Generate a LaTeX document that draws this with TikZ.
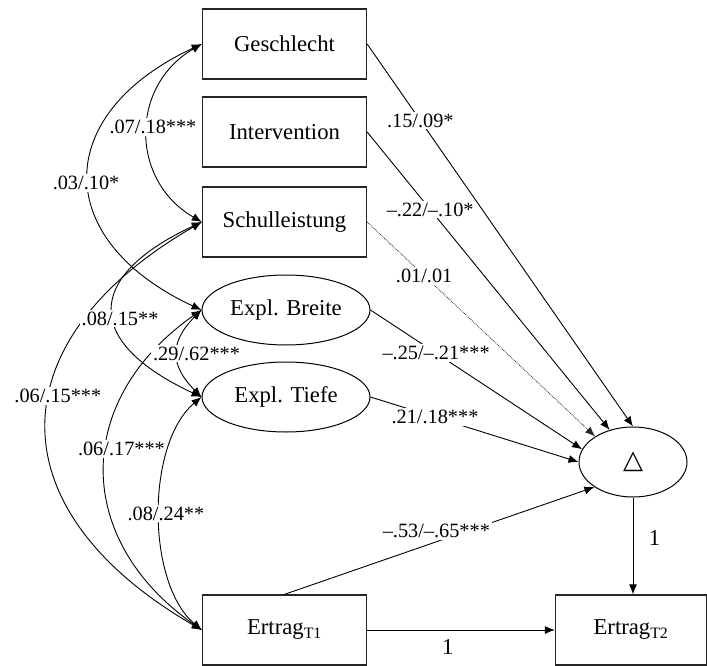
\documentclass[tikz,border=0pt]{standalone}
\usepackage{fontspec}
\setmainfont{Liberation Serif}
\newfontfamily\symfont{DejaVu Sans}
\usetikzlibrary{arrows.meta, shapes.geometric}

\begin{document}
\begin{tikzpicture}[x=1pt, y=-1pt, >={Latex[length=10pt,width=8pt]}, line width=0.9pt,
  font=\fontsize{22.7}{26}\selectfont,
  var/.style={draw=black!85, line width=1.3pt, minimum width=164pt, minimum height=70pt, inner sep=0pt},
  lat/.style={draw, ellipse, line width=1pt, minimum width=168pt, minimum height=70pt, inner sep=0pt},
  lbl/.style={fill=white, inner sep=2pt, font=\fontsize{20.3}{24}\selectfont}]
  \useasboundingbox (0,0) rectangle (707,666);
  % Variablen
  \node[var] (geschl) at (284.5,44) {Geschlecht};
  \node[var] (interv) at (284.5,132) {Intervention};
  \node[var] (schull) at (284.5,222) {Schulleistung};
  \node[lat] (breite) at (286,310) {Expl. Breite};
  \node[lat] (tiefe) at (286,397) {Expl. Tiefe};
  \node[var] (ertrA) at (284.5,630) {Ertrag\textsubscript{T1}};
  \node[var, minimum width=151pt] (ertrB) at (631,630) {Ertrag\textsubscript{T2}};
  \node[lat, minimum width=108pt] (delta) at (633,462) {\symfont\fontsize{26}{26}\selectfont △};
  % Pfade auf die Veränderung
  \draw[->] (geschl.east) -- node[lbl, pos=0.2] {.15/.09*} (delta.90);
  \draw[->] (interv.east) -- node[lbl, pos=0.26] {--.22/--.10*} (delta.126);
  \draw[->, densely dotted, line width=0.8pt, black!85] (schull.east) -- node[lbl, text=black, pos=0.25] {.01/.01} (delta.146);
  \draw[->] (breite.east) -- node[lbl, pos=0.31] {--.25/--.21***} (delta.166);
  \draw[->] (tiefe.east) -- node[lbl, pos=0.31] {.21/.18***} (delta.180);
  \draw[->] (ertrA.north) -- node[lbl, pos=0.49, yshift=11pt] {--.53/--.65***} (delta.213);
  \draw[->] (delta.south) -- node[right=12pt, pos=0.42] {1} (delta.south |- ertrB.north);
  \draw[->] (ertrA.east) -- node[below=6pt, pos=0.43] {1} (ertrB.west);
  % Korrelationen
  \draw[<->] (geschl.west) to[out=210, in=150, looseness=1.2] node[lbl, pos=0.47, xshift=5pt] {.07/.18***} (schull.west);
  \draw[<->] (geschl.west) to[out=205, in=155, looseness=1.6] node[lbl, pos=0.52, xshift=-3pt] {.03/.10*} (breite.west);
  \draw[<->] (schull.west) to[out=210, in=150, looseness=1.5] node[lbl, pos=0.43, xshift=8pt] {.06/.15***} (ertrA.west);
  \draw[<->] (schull.west) to[out=205, in=155, looseness=1.9] node[lbl, pos=0.55, xshift=6pt] {.08/.15**} (tiefe.west);
  \draw[<->] (breite.west) to[out=215, in=145, looseness=1.26] node[lbl, pos=0.44, xshift=15pt] {.06/.17***} (ertrA.west);
  \draw[<->] (breite.west) to[out=225, in=135, looseness=1.33] node[lbl, pos=0.5, xshift=19pt] {.29/.62***} (tiefe.west);
  \draw[<->] (tiefe.west) to[out=220, in=140, looseness=0.8] node[lbl, pos=0.5, xshift=6pt] {.08/.24**} (ertrA.west);
\end{tikzpicture}
\end{document}
